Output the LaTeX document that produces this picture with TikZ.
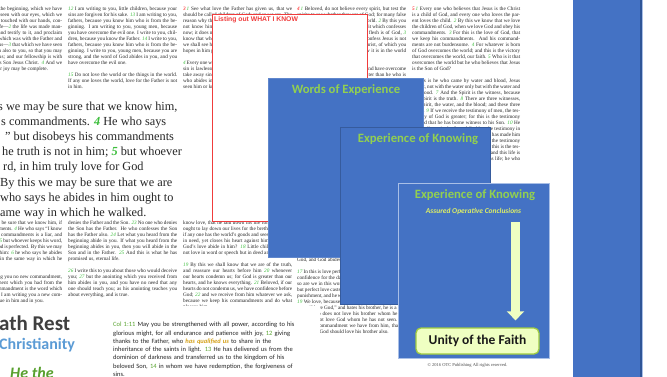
\documentclass[tikz,border=0pt]{standalone}
\usepackage{fontspec}
\setmainfont{Liberation Serif}
\newfontfamily\calibri{Carlito}
\newfontfamily\arial{Liberation Sans}
\usepackage{tikz}
\usetikzlibrary{arrows.meta}
\usetikzlibrary{positioning}
\setlength{\parindent}{0pt}
\definecolor{bleu}{HTML}{4472C4}
\definecolor{bleufonce}{HTML}{2F5597}
\definecolor{bleuclair}{HTML}{A9BFE6}
\definecolor{vert}{HTML}{92D050}
\definecolor{vertnum}{HTML}{3DBE3D}
\definecolor{colvert}{HTML}{5BA532}
\definecolor{jaune}{HTML}{EFFFC2}
\definecolor{bordvert}{HTML}{A0CC40}
\definecolor{soustitre}{HTML}{DDEE66}
\definecolor{rouge}{HTML}{F03C3C}
\definecolor{gris}{HTML}{3F3F3F}
\definecolor{bleuciel}{HTML}{5B9BD5}
\definecolor{vertfonce}{HTML}{58A02E}
\definecolor{or}{HTML}{D4A017}
\newcommand{\versnum}[1]{\textcolor{vertnum}{\textit{#1}}}
\newcommand{\chapnum}[1]{\textcolor{red}{\textit{#1}}}
\newcommand{\grandnum}[1]{\textcolor{vertnum}{\textbf{\textit{#1}}}}
\newcommand{\saut}{\par\vspace{6pt}}
\tikzstyle{colonne}=[anchor=north west,inner sep=0pt,text width=109pt,
align=justify,font=\fontsize{5.2}{6}\selectfont,text=black!85]
\tikzstyle{grand}=[anchor=base west,inner sep=0pt,
font=\fontsize{12.3}{15}\selectfont,text=black!85]
\tikzstyle{bloc}=[rectangle,fill=bleu,inner sep=0pt,line width=0.6pt]
\tikzstyle{titre}=[anchor=base,inner sep=0pt,text=vert,
font=\calibri\bfseries\fontsize{12.7}{14}\selectfont]
\tikzstyle{unite}=[rectangle,rounded corners=5pt,draw=bordvert,line width=1.3pt,
fill=jaune,minimum width=123pt,minimum height=26pt,text=black!90,
font=\calibri\bfseries\fontsize{13.5}{15}\selectfont]
\tikzstyle{fleche}=[draw=jaune,line width=9pt,-{Triangle[width=17pt,length=9pt]},shorten >=7pt]
\begin{document}
\begin{tikzpicture}[x=1pt,y=-1pt]
\path[use as bounding box,clip] (0,0) rectangle (667,376);
\fill[white] (0,0) rectangle (667,376);
%colonnes du haut
\node[colonne] (haut1) at (-47,7) {That which was from the beginning, which we have heard, which we have seen with our eyes, which we have looked upon and touched with our hands, concerning the word of life---\versnum{2} the life was made manifest, and we saw it, and testify to it, and proclaim to you the eternal life which was with the Father and was made manifest to us---\versnum{3} that which we have seen and heard we proclaim also to you, so that you may have fellowship with us; and our fellowship is with the Father and with his Son Jesus Christ. \versnum{4} And we are writing this that our joy may be complete.};
\node[colonne] (haut2) at (68,7) {\versnum{12} I am writing to you, little children, because your sins are forgiven for his sake. \versnum{13} I am writing to you, fathers, because you know him who is from the beginning. I am writing to you, young men, because you have overcome the evil one. I write to you, children, because you know the Father. \versnum{14} I write to you, fathers, because you know him who is from the beginning. I write to you, young men, because you are strong, and the word of God abides in you, and you have overcome the evil one.\saut
\versnum{15} Do not love the world or the things in the world. If any one loves the world, love for the Father is not in him.};
\node[colonne] (haut3) at (183,7) {\chapnum{3}\,\versnum{1} See what love the Father has given us, that we should be called children of God; and so we are. The reason why the world does not know us is that it did not know him. \versnum{2} Beloved, we are God's children now; it does not yet appear what we shall be, but we know that when he appears we shall be like him, for we shall see him as he is. \versnum{3} And every one who thus hopes in him purifies himself as he is pure.\saut
\versnum{4} Every one who commits sin is guilty of lawlessness; sin is lawlessness. \versnum{5} You know that he appeared to take away sins, and in him there is no sin. \versnum{6} No one who abides in him sins; no one who sins has either seen him or known him.};
\node[colonne] (haut4) at (297,7) {\chapnum{4}\,\versnum{1} Beloved, do not believe every spirit, but test the spirits to see whether they are of God; for many false prophets have gone out into the world. \versnum{2} By this you know the Spirit of God: every spirit which confesses that Jesus Christ has come in the flesh is of God, \versnum{3} and every spirit which does not confess Jesus is not of God. This is the spirit of antichrist, of which you heard that it was coming, and now it is in the world already.\saut
\versnum{4} Little children, you are of God, and have overcome them; for he who is in you is greater than he who is in the world.};
\node[colonne,text width=108pt] (haut5) at (412,7) {\chapnum{5}\,\versnum{1} Every one who believes that Jesus is the Christ is a child of God, and every one who loves the parent loves the child. \versnum{2} By this we know that we love the children of God, when we love God and obey his commandments. \versnum{3} For this is the love of God, that we keep his commandments. And his commandments are not burdensome. \versnum{4} For whatever is born of God overcomes the world; and this is the victory that overcomes the world, our faith. \versnum{5} Who is it that overcomes the world but he who believes that Jesus is the Son of God?\saut
\versnum{6} This is he who came by water and blood, Jesus Christ, not with the water only but with the water and the blood. \versnum{7} And the Spirit is the witness, because the Spirit is the truth. \versnum{8} There are three witnesses, the Spirit, the water, and the blood; and these three agree. \versnum{9} If we receive the testimony of men, the testimony of God is greater; for this is the testimony of God that he has borne witness to his Son. \versnum{10} He who believes in the Son of God has the testimony in himself. He who does not believe God has made him a liar, because he has not believed in the testimony that God has borne to his Son. \versnum{11} And this is the testimony, that God gave us eternal life, and this life is in his Son. \versnum{12} He who has the Son has life; he who has not the Son of God has not life.};
%colonnes du bas
\node[colonne] (bas1) at (-47,221) {\versnum{3} And by this we may be sure that we know him, if we keep his commandments. \versnum{4} He who says ``I know him'' but disobeys his commandments is a liar, and the truth is not in him; \versnum{5} but whoever keeps his word, in him truly love for God is perfected. By this we may be sure that we are in him: \versnum{6} he who says he abides in him ought to walk in the same way in which he walked.\saut
\versnum{7} Beloved, I am writing you no new commandment, but an old commandment which you had from the beginning; the old commandment is the word which you have heard. \versnum{8} Yet I am writing you a new commandment, which is true in him and in you.};
\node[colonne] (bas2) at (68,221) {denies the Father and the Son. \versnum{23} No one who denies the Son has the Father. He who confesses the Son has the Father also. \versnum{24} Let what you heard from the beginning abide in you. If what you heard from the beginning abides in you, then you will abide in the Son and in the Father. \versnum{25} And this is what he has promised us, eternal life.\saut
\versnum{26} I write this to you about those who would deceive you; \versnum{27} but the anointing which you received from him abides in you, and you have no need that any one should teach you; as his anointing teaches you about everything, and is true.};
\node[colonne] (bas3) at (183,221) {know love, that he laid down his life for us; and we ought to lay down our lives for the brethren. \versnum{17} But if any one has the world's goods and sees his brother in need, yet closes his heart against him, how does God's love abide in him? \versnum{18} Little children, let us not love in word or speech but in deed and in truth.\saut
\versnum{19} By this we shall know that we are of the truth, and reassure our hearts before him \versnum{20} whenever our hearts condemn us; for God is greater than our hearts, and he knows everything. \versnum{21} Beloved, if our hearts do not condemn us, we have confidence before God; \versnum{22} and we receive from him whatever we ask, because we keep his commandments and do what pleases him.};
\node[colonne] (bas4) at (297,258) {God, and God abides in him.\saut
\versnum{17} In this is love perfected with us, that we may have confidence for the day of judgment, because as he is so are we in this world. \versnum{18} There is no fear in love, but perfect love casts out fear. For fear has to do with punishment, and he who fears is not perfected in love. \versnum{19} We love, because he first loved us. \versnum{20} If any one says, ``I love God,'' and hates his brother, he is a liar; for he who does not love his brother whom he has seen, cannot love God whom he has not seen. \versnum{21} And this commandment we have from him, that he who loves God should love his brother also.};
%texte agrandi
\fill[white] (-1,93) rectangle (211,219);
\node[grand] (ligne1) at (-2,110) {s we may be sure that we know him,};
\node[grand] (ligne2) at (1,125) {s commandments. \grandnum{4} He who says};
\node[grand] (ligne3) at (5,140) {” but disobeys his commandments};
\node[grand] (ligne4) at (2,155) {he truth is not in him; \grandnum{5} but whoever};
\node[grand] (ligne5) at (3,170) {rd, in him truly love for God};
\node[grand] (ligne6) at (0,186) {By this we may be sure that we are};
\node[grand] (ligne7) at (0,201) {who says he abides in him ought to};
\node[grand] (ligne8) at (0,216) {ame way in which he walked.};
%cadre rouge
\node[rectangle,draw=rouge,fill=white,line width=0.9pt,inner sep=0pt,
minimum width=155pt,minimum height=207pt] (liste) at (289.5,117.5) {};
\node[anchor=base west,inner sep=0pt,text=rouge,font=\arial\bfseries\fontsize{6.8}{8}\selectfont]
(listetitre) at (214,21) {Listing out WHAT I KNOW};
%bas gauche
\fill[white] (-1,306) rectangle (320,377);
\node[anchor=base west,inner sep=0pt,text=gris,font=\calibri\bfseries\fontsize{21}{24}\selectfont]
(sabbat) at (-1,330) {ath Rest};
\node[anchor=base west,inner sep=0pt,text=bleuciel,font=\calibri\bfseries\fontsize{16}{18}\selectfont]
(chretien) at (-1,349) {Christianity};
\node[anchor=base west,inner sep=0pt,text=vertfonce,font=\calibri\bfseries\itshape\fontsize{16}{18}\selectfont]
(lui) at (10,378) {He the};
\node[anchor=north west,inner sep=0pt,text width=200pt,align=left,text=black!85,
font=\calibri\fontsize{6.5}{8.3}\selectfont] (colossiens) at (113,322)
{\textcolor{colvert}{Col 1:11} May you be strengthened  with all power, according to his\\
glorious might, for all endurance and patience with joy, \textcolor{colvert}{12} giving\\
thanks to the Father, who \textcolor{or}{\bfseries\itshape has qualified us} to share in the\\
inheritance of the  saints in light. \textcolor{colvert}{13} He has delivered us from the\\
dominion of darkness and transferred us to the kingdom of his\\
beloved Son, \textcolor{colvert}{14} in whom  we have redemption, the forgiveness of\\
sins.};
%blocs bleus
\node[bloc,draw=bleu!85!white,minimum width=155pt,minimum height=179pt] (mots) at (345.5,167.5) {};
\node[titre] (motstitre) at (346,93) {Words of Experience};
\node[bloc,draw=bleu!80!black,minimum width=150pt,minimum height=177pt] (savoir) at (415,215.5) {};
\node[titre] (savoirtitre) at (418,142.5) {Experience of Knowing};
\node[bloc,draw=bleuclair,line width=0.8pt,minimum width=151pt,minimum height=175pt] (certitude) at (473.5,270.5) {};
\node[titre] (certitudetitre) at (475,198.5) {Experience of Knowing};
\node[anchor=base,inner sep=0pt,text=soustitre,font=\calibri\bfseries\itshape\fontsize{7.5}{9}\selectfont]
(conclusions) at (473.5,213) {Assured Operative Conclusions};
\node[unite] (foi) at (477.5,341) {Unity of the Faith};
\coordinate (depart) at (515.5,222);
\draw[fleche] (depart) -- (depart |- foi.north);
\node[anchor=base,inner sep=0pt,text=black!70,font=\fontsize{4.5}{5}\selectfont]
(droits) at (467.5,366) {© 2016 OTC Publishing All rights reserved.};
%barre de droite
\fill[bleu] (573,0) rectangle (642,377);
\fill[bleufonce] (639.5,0) rectangle (642,377);
\fill[bleuclair] (642,0) rectangle (643,377);
\end{tikzpicture}
\end{document}
